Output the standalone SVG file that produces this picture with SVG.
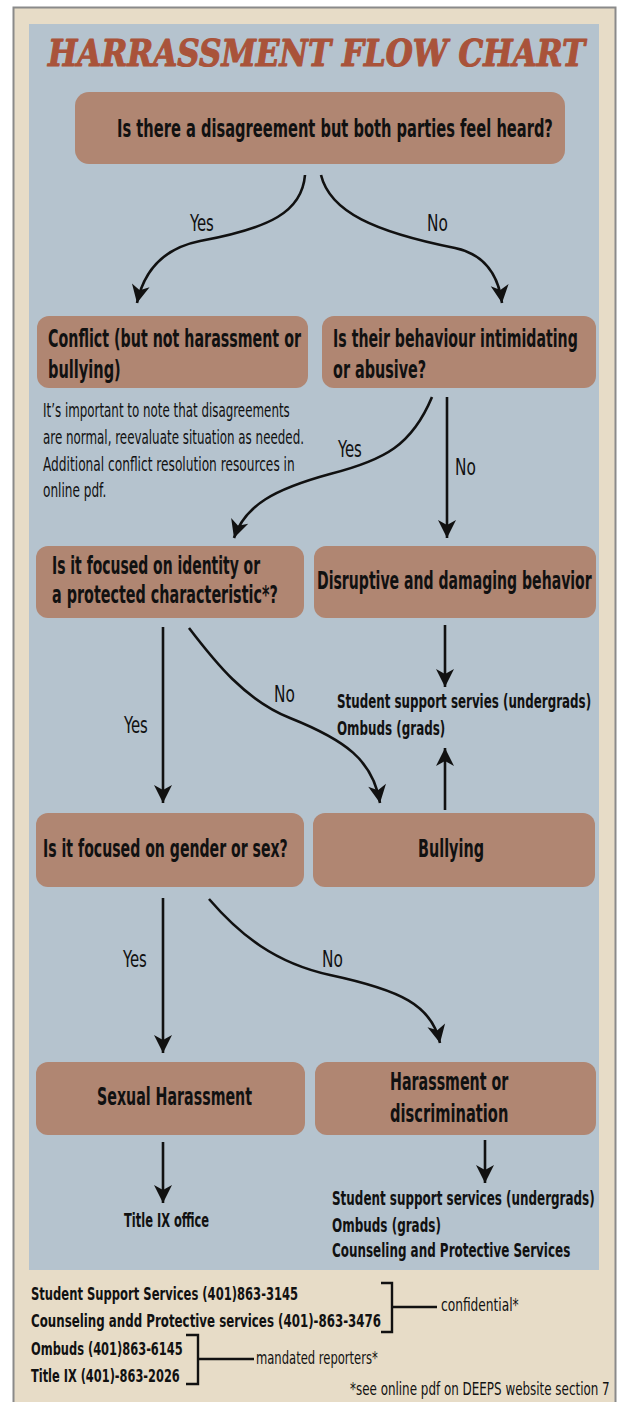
<svg xmlns="http://www.w3.org/2000/svg" width="621" height="1402" viewBox="0 0 621 1402">
<style>
.frame{fill:#e7dcc7;stroke:#8a8a8a;stroke-width:2}
.panel{fill:#b5c3ce}
.node{fill:#b08672}
.t{font-family:'Liberation Sans Narrow','DejaVu Sans Condensed','Liberation Sans',sans-serif;fill:#111}
.nt{font-size:24px;font-weight:bold}
.lb{font-size:23px}
.note{font-size:19px}
.sv{font-size:19px;font-weight:bold}
.ft{font-size:17px;font-weight:bold}
.fr{font-size:17px}
.title{font-family:'DejaVu Serif','Liberation Serif',serif;font-weight:bold;font-style:italic;font-size:38px;fill:#a9533a;stroke:#a9533a;stroke-width:1.2;stroke-linejoin:round}
.c{fill:none;stroke:#111;stroke-width:2.6}
.br{fill:none;stroke:#111;stroke-width:2.4}
</style>
<defs>
<marker id="ah" viewBox="0 0 20 20" refX="19" refY="10" markerWidth="20" markerHeight="20" markerUnits="userSpaceOnUse" orient="auto">
<path d="M1,1 L19,10 L1,19 L6,10 z" fill="#111"/>
</marker>
</defs>
<rect class="frame" x="13.5" y="7.5" width="602" height="1420"/>
<rect class="panel" x="29" y="24" width="570" height="1246"/>
<text class="title" transform="translate(48,66) scale(0.85,1)" textLength="632" lengthAdjust="spacingAndGlyphs">HARRASSMENT FLOW CHART</text>

<g id="n-top"><rect class="node" x="75" y="92" width="490" height="72" rx="14"/>
<text class="t nt" transform="translate(117,137) scale(0.68,1)" textLength="641" lengthAdjust="spacingAndGlyphs">Is there a disagreement but both parties feel heard?</text></g>

<g id="n-conflict"><rect class="node" x="37" y="316" width="271" height="72" rx="12"/>
<text class="t nt" transform="translate(48,347) scale(0.68,1)" textLength="372" lengthAdjust="spacingAndGlyphs">Conflict (but not harassment or</text>
<text class="t nt" transform="translate(48,378) scale(0.68,1)" textLength="107" lengthAdjust="spacingAndGlyphs">bullying)</text></g>

<g id="n-note">
<text class="t note" transform="translate(43,417) scale(0.62,1)" textLength="398" lengthAdjust="spacingAndGlyphs">It’s important to note that disagreements</text>
<text class="t note" transform="translate(43,444) scale(0.62,1)" textLength="421" lengthAdjust="spacingAndGlyphs">are normal, reevaluate situation as needed.</text>
<text class="t note" transform="translate(43,471) scale(0.62,1)" textLength="406" lengthAdjust="spacingAndGlyphs">Additional conflict resolution resources in</text>
<text class="t note" transform="translate(43,497) scale(0.62,1)" textLength="102" lengthAdjust="spacingAndGlyphs">online pdf.</text></g>

<g id="n-behaviour"><rect class="node" x="322" y="316" width="274" height="72" rx="12"/>
<text class="t nt" transform="translate(333,347) scale(0.68,1)" textLength="360" lengthAdjust="spacingAndGlyphs">Is their behaviour intimidating</text>
<text class="t nt" transform="translate(333,378) scale(0.68,1)" textLength="137" lengthAdjust="spacingAndGlyphs">or abusive?</text></g>

<g id="n-identity"><rect class="node" x="36" y="546" width="268" height="72" rx="12"/>
<text class="t nt" transform="translate(52,574) scale(0.68,1)" textLength="306" lengthAdjust="spacingAndGlyphs">Is it focused on identity or</text>
<text class="t nt" transform="translate(52,603) scale(0.68,1)" textLength="332" lengthAdjust="spacingAndGlyphs">a protected characteristic*?</text></g>

<g id="n-disruptive"><rect class="node" x="314" y="546" width="282" height="72" rx="12"/>
<text class="t nt" transform="translate(317,589) scale(0.68,1)" textLength="404" lengthAdjust="spacingAndGlyphs">Disruptive and damaging behavior</text></g>

<g id="n-services1">
<text class="t sv" transform="translate(337,708) scale(0.66,1)" textLength="385" lengthAdjust="spacingAndGlyphs">Student support servies (undergrads)</text>
<text class="t sv" transform="translate(337,735) scale(0.66,1)" textLength="164" lengthAdjust="spacingAndGlyphs">Ombuds (grads)</text></g>

<g id="n-gender"><rect class="node" x="36" y="813" width="268" height="74" rx="12"/>
<text class="t nt" transform="translate(43,857) scale(0.68,1)" textLength="360" lengthAdjust="spacingAndGlyphs">Is it focused on gender or sex?</text></g>

<g id="n-bullying"><rect class="node" x="313" y="813" width="282" height="74" rx="12"/>
<text class="t nt" transform="translate(418,857) scale(0.68,1)" textLength="97" lengthAdjust="spacingAndGlyphs">Bullying</text></g>

<g id="n-sexual"><rect class="node" x="36" y="1062" width="269" height="73" rx="12"/>
<text class="t nt" transform="translate(97,1105) scale(0.68,1)" textLength="228" lengthAdjust="spacingAndGlyphs">Sexual Harassment</text></g>

<g id="n-harassment"><rect class="node" x="315" y="1062" width="281" height="73" rx="12"/>
<text class="t nt" transform="translate(390,1090) scale(0.68,1)" textLength="174" lengthAdjust="spacingAndGlyphs">Harassment or</text>
<text class="t nt" transform="translate(390,1122) scale(0.68,1)" textLength="174" lengthAdjust="spacingAndGlyphs">discrimination</text></g>

<g id="n-titleix">
<text class="t sv" transform="translate(124,1227) scale(0.66,1)" textLength="129" lengthAdjust="spacingAndGlyphs">Title IX office</text></g>

<g id="n-services2">
<text class="t sv" transform="translate(332,1205) scale(0.66,1)" textLength="398" lengthAdjust="spacingAndGlyphs">Student support services (undergrads)</text>
<text class="t sv" transform="translate(332,1232) scale(0.66,1)" textLength="165" lengthAdjust="spacingAndGlyphs">Ombuds (grads)</text>
<text class="t sv" transform="translate(332,1257) scale(0.66,1)" textLength="361" lengthAdjust="spacingAndGlyphs">Counseling and Protective Services</text></g>

<g id="connectors">
<path class="c" marker-end="url(#ah)" d="M305,175 C302,212 270,228 200,241 C160,249 143,275 137,303"/>
<path class="c" marker-end="url(#ah)" d="M321,175 C330,212 375,232 455,248 C488,255 499,280 502,303"/>
<path class="c" marker-end="url(#ah)" d="M432,397 C412,445 385,460 330,474 C275,489 245,505 234,538"/>
<path class="c" marker-end="url(#ah)" d="M447,397 V538"/>
<path class="c" marker-end="url(#ah)" d="M163,627 V803"/>
<path class="c" marker-end="url(#ah)" d="M189,628 C215,662 245,700 290,718 C345,740 373,760 380,803"/>
<path class="c" marker-end="url(#ah)" d="M445,625 V687"/>
<path class="c" marker-end="url(#ah)" d="M445,810 V748"/>
<path class="c" marker-end="url(#ah)" d="M163,898 V1053"/>
<path class="c" marker-end="url(#ah)" d="M209,899 C240,935 275,963 330,975 C400,990 432,1005 440,1043"/>
<path class="c" marker-end="url(#ah)" d="M163,1142 V1203"/>
<path class="c" marker-end="url(#ah)" d="M485,1140 V1183"/>
<text class="t lb" transform="translate(190,231) scale(0.72,1)" textLength="33" lengthAdjust="spacingAndGlyphs">Yes</text>
<text class="t lb" transform="translate(427,231) scale(0.72,1)" textLength="29" lengthAdjust="spacingAndGlyphs">No</text>
<text class="t lb" transform="translate(338,457) scale(0.72,1)" textLength="33" lengthAdjust="spacingAndGlyphs">Yes</text>
<text class="t lb" transform="translate(455,475) scale(0.72,1)" textLength="29" lengthAdjust="spacingAndGlyphs">No</text>
<text class="t lb" transform="translate(124,733) scale(0.72,1)" textLength="33" lengthAdjust="spacingAndGlyphs">Yes</text>
<text class="t lb" transform="translate(274,702) scale(0.72,1)" textLength="29" lengthAdjust="spacingAndGlyphs">No</text>
<text class="t lb" transform="translate(123,967) scale(0.72,1)" textLength="33" lengthAdjust="spacingAndGlyphs">Yes</text>
<text class="t lb" transform="translate(322,967) scale(0.72,1)" textLength="29" lengthAdjust="spacingAndGlyphs">No</text>
</g>

<g id="footer">
<text class="t ft" transform="translate(31,1300) scale(0.74,1)" textLength="361" lengthAdjust="spacingAndGlyphs">Student Support Services (401)863-3145</text>
<text class="t ft" transform="translate(31,1327) scale(0.74,1)" textLength="473" lengthAdjust="spacingAndGlyphs">Counseling andd Protective services (401)-863-3476</text>
<text class="t ft" transform="translate(31,1355) scale(0.74,1)" textLength="205" lengthAdjust="spacingAndGlyphs">Ombuds (401)863-6145</text>
<text class="t ft" transform="translate(31,1382) scale(0.74,1)" textLength="201" lengthAdjust="spacingAndGlyphs">Title IX (401)-863-2026</text>
<path class="br" d="M381,1283 H392 V1332 H381 M392,1307 H437"/>
<text class="t fr" transform="translate(441,1311) scale(0.7,1)" textLength="111" lengthAdjust="spacingAndGlyphs">confidential*</text>
<path class="br" d="M186,1335 H198 V1384 H186 M198,1359 H254"/>
<text class="t fr" transform="translate(256,1364) scale(0.7,1)" textLength="174" lengthAdjust="spacingAndGlyphs">mandated reporters*</text>
<text class="t fr" transform="translate(350,1395) scale(0.7,1)" textLength="371" lengthAdjust="spacingAndGlyphs">*see online pdf on DEEPS website section 7</text>
</g>
</svg>
